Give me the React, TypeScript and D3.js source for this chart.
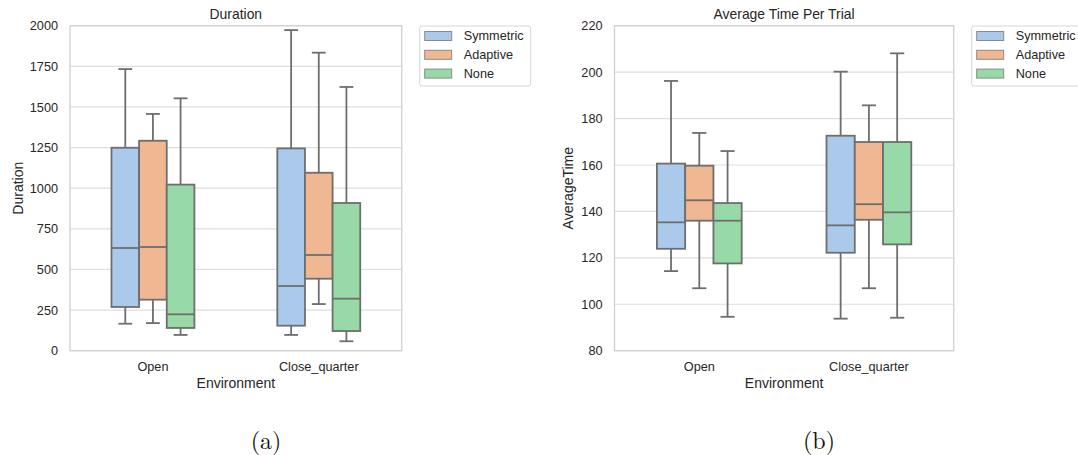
import React, { useEffect, useRef } from "react";
import * as d3 from "d3";

// box stats per environment: [low whisker, q1, median, q3, high whisker]
const environments = ["Open", "Close_quarter"];
const strategies = ["Symmetric", "Adaptive", "None"];
const colors = ["#abc9ea", "#efb792", "#98daa7"];

const durationSymmetric = [[166, 269, 632, 1249, 1733], [97, 154, 398, 1245, 1973]];
const durationAdaptive = [[170, 314, 638, 1292, 1457], [287, 443, 589, 1095, 1834]];
const durationNone = [[97, 140, 224, 1022, 1553], [58, 121, 320, 909, 1623]];

const timeSymmetric = [[114.3, 123.9, 135.3, 160.6, 196.2], [93.8, 122.2, 134.0, 172.6, 200.2]];
const timeAdaptive = [[106.9, 136.0, 144.8, 159.7, 173.8], [106.9, 136.4, 143.1, 169.9, 185.7]];
const timeNone = [[94.6, 117.6, 136.0, 143.6, 166.0], [94.2, 125.8, 139.6, 169.9, 208.1]];

const durationTicks = [0, 250, 500, 750, 1000, 1250, 1500, 1750, 2000];
const timeTicks = [80, 100, 120, 140, 160, 180, 200, 220];

const FONT = "'Liberation Sans', Arial, Helvetica, sans-serif";
const TEXT = "#262626";
const EDGE = "#6e6e6e";

const drawPanel = (svg, cfg) => {
  const { left, right, top, bottom, series, ticks, title, ylabel, ylabelX } = cfg;
  const g = svg.append("g");

  const y = d3.scaleLinear()
    .domain([ticks[0], ticks[ticks.length - 1]])
    .range([bottom, top]);
  const x = d3.scaleBand().domain(environments).range([left, right]).padding(0);
  const inner = d3.scaleBand()
    .domain(strategies)
    .range([0, x.bandwidth() * 0.5]);

  // grid
  g.selectAll(".grid")
    .data(ticks)
    .enter()
    .append("line")
    .attr("x1", left).attr("x2", right)
    .attr("y1", d => y(d)).attr("y2", d => y(d))
    .attr("stroke", "#dedede").attr("stroke-width", 1.2);

  // y axis labels
  const ay = g.append("g")
    .attr("transform", `translate(${left},0)`)
    .call(d3.axisLeft(y).tickValues(ticks).tickSize(0).tickPadding(12).tickFormat(d3.format("d")));
  ay.select(".domain").remove();
  ay.selectAll("text").attr("font-family", FONT).attr("font-size", 12.7).attr("fill", TEXT);

  // x axis labels
  const ax = g.append("g")
    .attr("transform", `translate(0,${bottom})`)
    .call(d3.axisBottom(x).tickSize(0).tickPadding(11));
  ax.select(".domain").remove();
  ax.selectAll("text").attr("font-family", FONT).attr("font-size", 12.7).attr("fill", TEXT);

  // frame
  g.append("rect")
    .attr("x", left).attr("y", top)
    .attr("width", right - left).attr("height", bottom - top)
    .attr("fill", "none").attr("stroke", "#d0d0d0").attr("stroke-width", 1.3);

  // boxes
  series.forEach((vals, si) => {
    vals.forEach((s, ci) => {
      const [lo, q1, med, q3, hi] = s;
      const x0 = x(environments[ci]) + x.bandwidth() * 0.25 + inner(strategies[si]);
      const w = inner.bandwidth();
      const cx = x0 + w / 2;
      const bg = g.append("g").attr("stroke", EDGE).attr("stroke-width", 1.8);
      bg.append("line").attr("x1", cx).attr("x2", cx).attr("y1", y(q3)).attr("y2", y(hi));
      bg.append("line").attr("x1", cx).attr("x2", cx).attr("y1", y(q1)).attr("y2", y(lo));
      bg.append("line").attr("x1", cx - w / 4).attr("x2", cx + w / 4).attr("y1", y(hi)).attr("y2", y(hi));
      bg.append("line").attr("x1", cx - w / 4).attr("x2", cx + w / 4).attr("y1", y(lo)).attr("y2", y(lo));
      bg.append("rect")
        .attr("x", x0).attr("y", y(q3))
        .attr("width", w).attr("height", y(q1) - y(q3))
        .attr("fill", colors[si]);
      bg.append("line").attr("x1", x0).attr("x2", x0 + w).attr("y1", y(med)).attr("y2", y(med));
    });
  });

  // titles
  g.append("text")
    .attr("x", (left + right) / 2).attr("y", 14)
    .attr("text-anchor", "middle").attr("dominant-baseline", "central")
    .attr("font-family", FONT).attr("font-size", 13.9).attr("fill", TEXT)
    .text(title);
  g.append("text")
    .attr("x", (left + right) / 2).attr("y", 383)
    .attr("text-anchor", "middle").attr("dominant-baseline", "central")
    .attr("font-family", FONT).attr("font-size", 14).attr("fill", TEXT)
    .text("Environment");
  g.append("text")
    .attr("transform", `translate(${ylabelX},${(top + bottom) / 2}) rotate(-90)`)
    .attr("text-anchor", "middle").attr("dominant-baseline", "central")
    .attr("font-family", FONT).attr("font-size", 14).attr("fill", TEXT)
    .text(ylabel);

  // legend
  const lx = right + 18, ly = 26;
  const lg = g.append("g");
  lg.append("rect")
    .attr("x", lx).attr("y", ly).attr("width", 111).attr("height", 60)
    .attr("rx", 2.5)
    .attr("fill", "white").attr("stroke", "#d6d6d6").attr("stroke-width", 1);
  strategies.forEach((s, i) => {
    const cy = ly + 10 + i * 18.8;
    lg.append("rect")
      .attr("x", lx + 5).attr("y", cy - 4.5).attr("width", 27).attr("height", 9)
      .attr("fill", colors[i]).attr("stroke", "#8a8a8a").attr("stroke-width", 1);
    lg.append("text")
      .attr("x", lx + 44).attr("y", cy)
      .attr("dominant-baseline", "central")
      .attr("font-family", FONT).attr("font-size", 12.7).attr("fill", TEXT)
      .text(s);
  });
};

const App = () => {
  const ref = useRef(null);

  useEffect(() => {
    const svg = d3.select(ref.current);
    svg.selectAll("*").remove();

    drawPanel(svg, {
      left: 70, right: 401.7, top: 25.7, bottom: 350.7,
      series: [durationSymmetric, durationAdaptive, durationNone],
      ticks: durationTicks, title: "Duration", ylabel: "Duration", ylabelX: 17.5,
    });
    drawPanel(svg, {
      left: 614.5, right: 953.7, top: 25.7, bottom: 350.7,
      series: [timeSymmetric, timeAdaptive, timeNone],
      ticks: timeTicks, title: "Average Time Per Trial", ylabel: "AverageTime", ylabelX: 568,
    });

    const serif = "'Latin Modern Roman', 'Liberation Serif', 'Times New Roman', serif";
    svg.append("text")
      .attr("x", 266).attr("y", 439).attr("text-anchor", "middle")
      .attr("dominant-baseline", "central")
      .attr("font-family", serif).attr("font-size", 24).attr("fill", "#111")
      .text("(a)");
    svg.append("text")
      .attr("x", 819).attr("y", 439).attr("text-anchor", "middle")
      .attr("dominant-baseline", "central")
      .attr("font-family", serif).attr("font-size", 24).attr("fill", "#111")
      .text("(b)");
  }, []);

  return (
    <svg
      ref={ref}
      width={1078}
      height={455}
      style={{ position: "absolute", left: 0, top: 0, background: "white" }}
    />
  );
};

export default App;
